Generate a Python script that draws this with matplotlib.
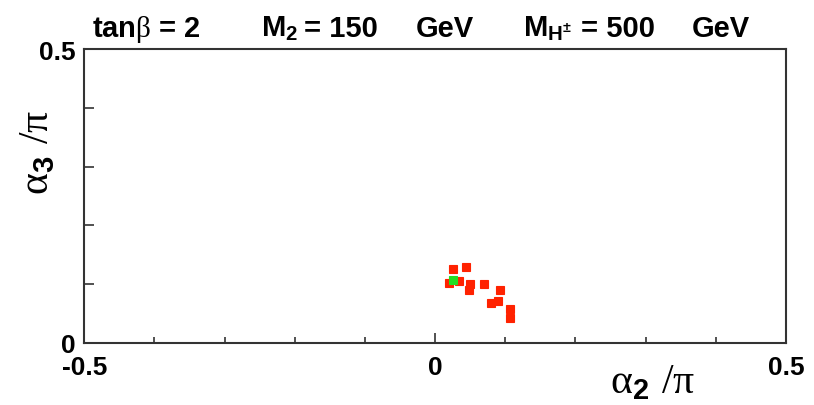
import matplotlib.pyplot as plt
from matplotlib.ticker import MultipleLocator, FixedLocator

plt.rcParams['font.family'] = ['Liberation Sans', 'DejaVu Sans']
plt.rcParams['mathtext.fontset'] = 'custom'
plt.rcParams['mathtext.rm'] = 'Liberation Serif'
plt.rcParams['mathtext.bf'] = 'Liberation Sans:bold'
plt.rcParams['mathtext.it'] = 'Liberation Sans:italic'
plt.rcParams['mathtext.sf'] = 'Liberation Sans'

# allowed points in the (alpha2, alpha3) plane, in units of pi
a2_red = [0.025, 0.0435, 0.020, 0.0335, 0.050, 0.048, 0.070, 0.093, 0.080, 0.090, 0.106, 0.106]
a3_red = [0.126, 0.129, 0.102, 0.105, 0.100, 0.089, 0.100, 0.089, 0.068, 0.071, 0.058, 0.042]
a2_green = [0.025]
a3_green = [0.107]

fig = plt.figure(figsize=(8.14, 4.06), dpi=100)
ax = fig.add_axes([0.1036, 0.1535, 0.862, 0.723])

ax.plot(a2_red, a3_red, 's', color='#ff2200', ms=5.5, mec='#ff2200', mew=0.8)
ax.plot(a2_green, a3_green, 's', color='#22dd22', ms=5.5, mec='#22dd22', mew=0.8)

ax.set_xlim(-0.5, 0.5)
ax.set_ylim(0, 0.5)
ax.xaxis.set_major_locator(FixedLocator([-0.5, 0, 0.5]))
ax.xaxis.set_minor_locator(MultipleLocator(0.1))
ax.yaxis.set_major_locator(FixedLocator([0, 0.5]))
ax.yaxis.set_minor_locator(MultipleLocator(0.1))
ax.xaxis.set_major_formatter(plt.FuncFormatter(lambda v, p: '%g' % v))
ax.yaxis.set_major_formatter(plt.FuncFormatter(lambda v, p: '%g' % v))

for s in ax.spines.values():
    s.set_linewidth(1.5)
    s.set_color('#333333')
ax.tick_params(axis='x', which='major', direction='in', length=7.5, width=1.2,
               color='#333333', labelsize=19, pad=9)
ax.tick_params(axis='x', which='minor', direction='in', length=4, width=1.2,
               color='#333333')
ax.tick_params(axis='y', which='both', direction='in', length=7.5, width=1.2,
               color='#333333', labelsize=19, pad=6)
for lab in ax.get_xticklabels() + ax.get_yticklabels():
    lab.set_fontweight('bold')

# axis titles
fig.text(0.749, 0.032, r'$\mathrm{α}_{\mathbf{2}}\ \mathit{/}\mathrm{π}$', fontsize=30, ha='left')
fig.text(0.021, 0.625, r'$\mathrm{α}_{\mathbf{3}}\ \mathit{/}\mathrm{π}$', fontsize=30, ha='left',
         va='center', rotation=90)

# header line
hy = 0.91
fig.text(0.113, hy, r'tan$\mathrm{β}$ = 2', fontsize=21, fontweight='bold')
fig.text(0.321, hy, r'M$_{\mathbf{2}}$', fontsize=21, fontweight='bold')
fig.text(0.374, hy, '= 150', fontsize=21, fontweight='bold')
fig.text(0.511, hy, 'GeV', fontsize=21, fontweight='bold')
fig.text(0.642, hy, r'M$_{\mathbf{H^{\pm}}}$', fontsize=21, fontweight='bold')
fig.text(0.714, hy, '= 500', fontsize=21, fontweight='bold')
fig.text(0.850, hy, 'GeV', fontsize=21, fontweight='bold')

fig.savefig('out.png', dpi=100, facecolor='white')
